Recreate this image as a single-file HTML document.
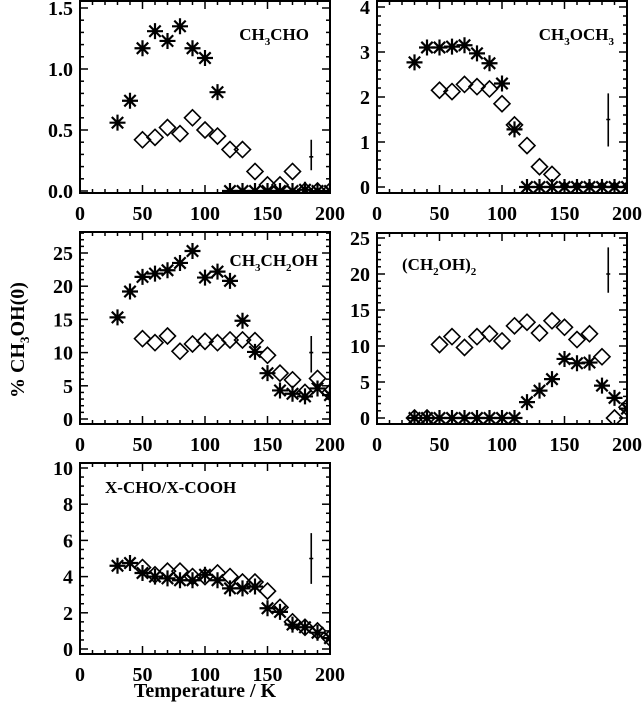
<!DOCTYPE html>
<html><head><meta charset="utf-8"><style>
body{margin:0;background:#fff}
svg text{font-family:"Liberation Serif",serif;font-weight:bold;fill:#000}
</style></head><body>
<svg id="chart" width="644" height="708" xmlns="http://www.w3.org/2000/svg">
<text transform="translate(24,340) rotate(-90)" text-anchor="middle" font-size="20">% CH<tspan font-size="13" dy="5">3</tspan><tspan dy="-5">OH(0)</tspan></text>
<text x="205" y="697" text-anchor="middle" font-size="20">Temperature / K</text>
</svg>
<script>
const temps = [30,40,50,60,70,80,90,100,110,120,130,140,150,160,170,180,190,200];
const xTicks = [0,50,100,150,200];
// panel 1 CH3CHO
const p1Stars = [0.56,0.74,1.17,1.31,1.23,1.35,1.17,1.09,0.81,0,0,0,0,0,0,0.01,0,0];
const p1Diam  = [null,null,0.42,0.44,0.52,0.47,0.60,0.50,0.45,0.34,0.34,0.16,0.05,0.05,0.16,0,0,0];
const p1Ticks = ["0.0","0.5","1.0","1.5"];
// panel 2 CH3OCH3
const p2Stars = [2.77,3.10,3.10,3.12,3.15,2.97,2.75,2.30,1.28,0,0,0,0,0,0,0,0,0];
const p2Diam  = [null,null,2.15,2.12,2.28,2.23,2.18,1.85,1.38,0.92,0.45,0.28,0.03,0.03,0.03,0.03,0.03,0.03];
const p2Ticks = ["0","1","2","3","4"];
// panel 3 CH3CH2OH
const p3Stars = [15.3,19.2,21.4,21.9,22.4,23.5,25.3,21.3,22.2,20.8,14.8,10.1,6.9,4.3,3.8,3.4,4.6,3.6];
const p3Diam  = [null,null,12.1,11.5,12.5,10.2,11.3,11.7,11.5,11.9,11.9,11.8,9.6,6.9,5.9,4.0,6.1,4.0];
const p3Ticks = ["0","5","10","15","20","25"];
// panel 4 (CH2OH)2
const p4Stars = [0,0,0,0,0,0,0,0,0,2.2,3.8,5.4,8.2,7.6,7.7,4.5,2.8,1.3];
const p4Diam  = [0,0,10.2,11.3,9.8,11.3,11.7,10.7,12.8,13.3,11.8,13.5,12.6,10.9,11.7,8.5,0,1.5];
const p4Ticks = ["0","5","10","15","20","25"];
// panel 5 X-CHO/X-COOH
const p5Stars = [4.6,4.75,4.2,4.0,3.9,3.8,3.8,4.1,3.8,3.35,3.35,3.45,2.25,2.05,1.35,1.2,0.9,0.6];
const p5Diam  = [null,null,4.5,4.1,4.3,4.3,4.0,4.0,4.2,4.0,3.7,3.7,3.2,2.3,1.5,1.2,1.0,0.6];
const p5Ticks = ["0","2","4","6","8","10"];
// error bars [x, low, center, high]
const p1Err=[185,0.17,0.28,0.42], p2Err=[185,0.9,1.5,2.08], p3Err=[185,7,10,12.5], p4Err=[185,17.4,20,23.7], p5Err=[185,3.6,5,6.4];

const svg=document.getElementById('chart');
const NS='http://www.w3.org/2000/svg';
function mk(tag,attrs,parent){const e=document.createElementNS(NS,tag);for(const k in attrs)e.setAttribute(k,attrs[k]);(parent||svg).appendChild(e);return e;}
const defs=mk('defs',{});
let pid=0;
function panel(cfg){
  const g=mk('g',{});
  
  
  const L=cfg.x0,R=cfg.x0+250,T=cfg.top,B=cfg.bot;
  const sx=v=>L+v*1.25;
  const sy=v=>cfg.y0-(v-cfg.ymin)*cfg.ppu;
  const cid='clip'+(pid++);
  const cp=mk('clipPath',{id:cid},defs);
  mk('rect',{x:L,y:T,width:R-L,height:B-T},cp);
  const frame=mk('rect',{x:L,y:T,width:R-L,height:B-T,fill:'none',stroke:'#000','stroke-width':2},g);
  
  
  for(let v=0;v<=200;v+=10){
    const len=v%50===0?8:4;
    mk('line',{x1:sx(v),x2:sx(v),y1:B,y2:B-len,stroke:'#000','stroke-width':1.5},g);
    mk('line',{x1:sx(v),x2:sx(v),y1:T,y2:T+len,stroke:'#000','stroke-width':1.5},g);
  }
  xTicks.forEach(v=>{const t=mk('text',{x:sx(v),y:B+27,'text-anchor':'middle','font-size':20},g);t.textContent=v;
    
    });
  const maj=cfg.major, mn=cfg.minor;
  for(let v=cfg.ymin;v<=cfg.ymax+1e-9;v+=mn){
    const y=sy(v);if(y<T-0.5||y>B+0.5)continue;
    const isMaj=Math.abs(Math.round(v/maj)*maj-v)<1e-6;
    const len=isMaj?8:4;
    mk('line',{x1:L,x2:L+len,y1:y,y2:y,stroke:'#000','stroke-width':1.5},g);
    mk('line',{x1:R,x2:R-len,y1:y,y2:y,stroke:'#000','stroke-width':1.5},g);
  }
  cfg.ticks.forEach(s=>{const t=mk('text',{x:L-7,y:sy(parseFloat(s))+7,'text-anchor':'end','font-size':20},g);t.textContent=s;
    
    });
  const pg=mk('g',{'clip-path':`url(#${cid})`},g);
  cfg.diam.forEach((v,i)=>{if(v===null)return;const x=sx(temps[i]),y=sy(v),r=(v<=0.05*cfg.ymax&&cfg.small)?3.5:8;
    const d=mk('path',{d:`M${x} ${y-r}L${x+r} ${y}L${x} ${y+r}L${x-r} ${y}Z`,fill:'none',stroke:'#000','stroke-width':1.6},pg);
    
    });
  cfg.stars.forEach((v,i)=>{const x=sx(temps[i]),y=sy(v),r=8,r2=5.7;
    const s=mk('path',{d:`M${x-r} ${y}L${x+r} ${y}M${x} ${y-r}L${x} ${y+r}M${x-r2} ${y-r2}L${x+r2} ${y+r2}M${x-r2} ${y+r2}L${x+r2} ${y-r2}`,stroke:'#000','stroke-width':2.2},pg);
    
    });
  const e=cfg.err;
  const eb=mk('path',{d:`M${sx(e[0])} ${sy(e[1])}L${sx(e[0])} ${sy(e[3])}M${sx(e[0])-2} ${sy(e[2])}L${sx(e[0])+2} ${sy(e[2])}`,stroke:'#000','stroke-width':1.6},pg);
  
  
  const lab=mk('text',{x:cfg.lx,y:cfg.ly,'font-size':17,'text-anchor':cfg.anchor||'start'},g);
  lab.innerHTML=cfg.label;
  
  
}
const sub=s=>`<tspan font-size="11" dy="5">${s}</tspan><tspan dy="-5">`;
panel({name:'panel-ch3cho',x0:80,top:1,bot:193,y0:191,ymin:0,ymax:1.55,ppu:122,major:0.5,minor:0.1,ticks:p1Ticks,stars:p1Stars,diam:p1Diam,err:p1Err,lx:309,ly:40,anchor:'end',label:'CH'+sub('3')+'CHO</tspan>'});
panel({name:'panel-ch3och3',x0:377,top:1,bot:193,y0:187,ymin:0,ymax:4.1,ppu:45,major:1,minor:0.2,ticks:p2Ticks,stars:p2Stars,diam:p2Diam,err:p2Err,lx:614,ly:40,anchor:'end',small:true,label:'CH'+sub('3')+'OCH</tspan>'+sub('3')+'</tspan>'});
panel({name:'panel-ch3ch2oh',x0:80,top:232,bot:424,y0:419,ymin:0,ymax:28,ppu:6.64,major:5,minor:1,ticks:p3Ticks,stars:p3Stars,diam:p3Diam,err:p3Err,lx:318,ly:266,anchor:'end',label:'CH'+sub('3')+'CH</tspan>'+sub('2')+'OH</tspan>'});
panel({name:'panel-ch2oh2',x0:377,top:233,bot:424,y0:418,ymin:0,ymax:25.5,ppu:7.2,major:5,minor:1,ticks:p4Ticks,stars:p4Stars,diam:p4Diam,err:p4Err,lx:402,ly:270,label:'(CH'+sub('2')+'OH)</tspan>'+sub('2')+'</tspan>'});
panel({name:'panel-xcho-xcooh',x0:80,top:463,bot:654,y0:649,ymin:0,ymax:10.2,ppu:18.1,major:2,minor:0.5,ticks:p5Ticks,stars:p5Stars,diam:p5Diam,err:p5Err,lx:105,ly:493,label:'X-CHO/X-COOH'});
</script>
</body></html>
